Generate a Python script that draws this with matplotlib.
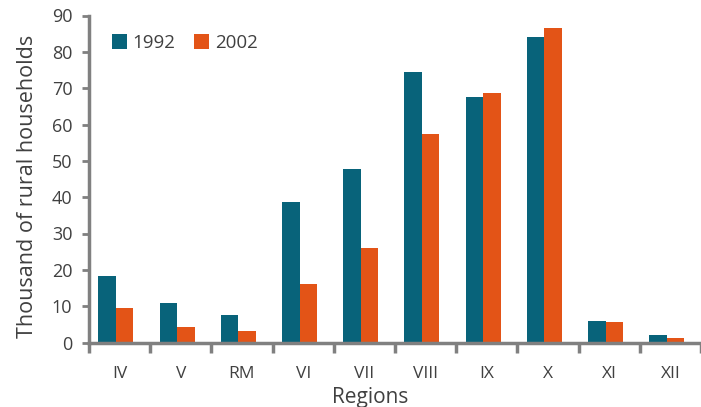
import numpy as np
import matplotlib
matplotlib.use("Agg")
import matplotlib.pyplot as plt

regions = ["IV", "V", "RM", "VI", "VII", "VIII", "IX", "X", "XI", "XII"]
y1992 = [18.2, 11.0, 7.6, 38.6, 47.7, 74.5, 67.7, 84.1, 6.0, 2.1]
y2002 = [9.5, 4.4, 3.2, 16.2, 26.0, 57.4, 68.8, 86.5, 5.6, 1.2]

TEAL = "#08637a"
ORANGE = "#e35417"
GREY = "#808080"
TXT = "#404040"

plt.rcParams["font.family"] = ["Open Sans", "DejaVu Sans"]

fig = plt.figure(figsize=(7.01, 4.07), dpi=100)
ax = fig.add_axes([89 / 701, 64.5 / 407, (701 - 89) / 701, (342.7 - 15.7) / 407])

x = np.arange(len(regions))
w = 0.285
ax.bar(x - w / 2 - 0.06, y1992, w, color=TEAL, label="1992")
ax.bar(x + w / 2 - 0.06, y2002, w, color=ORANGE, label="2002")

ax.set_ylim(0, 90)
ax.set_xlim(-0.5, 9.44)
ax.set_yticks(range(0, 91, 10))
ax.tick_params(axis="y", colors=GREY, labelcolor=TXT, labelsize=13, length=5, width=2, pad=7)
ax.set_xticks(np.arange(-0.5, 10, 1.0))
ax.set_xticklabels([])
ax.set_xticks(x, minor=True)
ax.set_xticklabels(regions, minor=True)
ax.tick_params(axis="x", which="major", colors=GREY, length=7, width=2.5, direction="out")
ax.tick_params(axis="x", which="minor", length=0, labelcolor=TXT, labelsize=12.5, pad=17)

for s in ["top", "right"]:
    ax.spines[s].set_visible(False)
for s in ["left", "bottom"]:
    ax.spines[s].set_color(GREY)
    ax.spines[s].set_linewidth(2.5)

ax.set_ylabel("Thousand of rural households", fontsize=15.5, color=TXT)
ax.yaxis.set_label_coords(-(89 - 38) / 612, (342.7 - 187) / 327)
ax.set_xlabel("Regions", fontsize=15, color=TXT, labelpad=0)
ax.xaxis.set_label_coords((370 - 89) / 612, -0.135)

ax.legend(loc="upper left", bbox_to_anchor=(0.01, 0.995), ncol=2, frameon=False,
          fontsize=13.5, handlelength=0.8, handleheight=0.8, handletextpad=0.3,
          columnspacing=1.0, labelcolor=TXT)

fig.savefig("out.png", dpi=100)
